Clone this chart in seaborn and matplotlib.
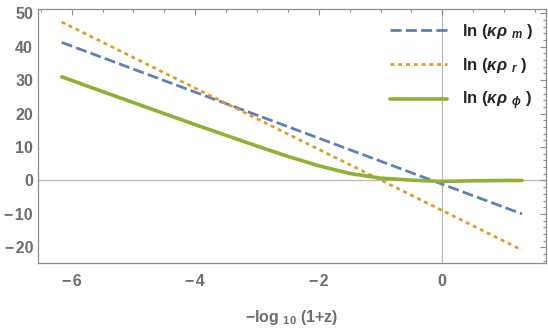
import numpy as np
import pandas as pd
import matplotlib
matplotlib.use("Agg")
import matplotlib.pyplot as plt
import seaborn as sns
from matplotlib.ticker import MultipleLocator

# datos
x_lin = [-6.16, 1.29]
ln_rho_m = [41.3, -10.0]
ln_rho_r = [47.4, -20.8]

x_phi = [-6.16, -5.5, -5.0, -4.5, -4.0, -3.5, -3.0, -2.5, -2.0, -1.5,
         -1.0, -0.5, 0.0, 0.5, 1.0, 1.29]
ln_rho_phi = [31.0, 26.6, 23.3, 20.0, 16.7, 13.5, 10.3, 7.2, 4.4, 2.1,
              0.7, 0.1, -0.3, -0.1, 0.0, 0.0]

xticks = [-6, -4, -2, 0]
xticklabels = ["\u2212\u200a6", "\u2212\u200a4", "\u2212\u200a2", "0"]
yticks = [-20, -10, 0, 10, 20, 30, 40, 50]
yticklabels = ["\u2212\u200a20", "\u2212\u200a10", "0", "10", "20", "30", "40", "50"]

sns.set_style("white")
fuente = "Liberation Sans"
plt.rcParams["font.family"] = [fuente, "DejaVu Sans"]
plt.rcParams["mathtext.fontset"] = "custom"
plt.rcParams["mathtext.rm"] = fuente + ":bold"
plt.rcParams["mathtext.it"] = fuente + ":italic:bold"
plt.rcParams["mathtext.bf"] = fuente + ":bold"
plt.rcParams["mathtext.default"] = "rm"

gris = "#6e6e6e"
fig = plt.figure(figsize=(5.48, 3.31), dpi=100)
ax = fig.add_axes([0.0693, 0.2063, 0.9265, 0.7656])

ax.axhline(0, color="#b9b9b9", lw=0.9, zorder=0)
ax.axvline(0, color="#b9b9b9", lw=0.9, zorder=0)

df_lin = pd.DataFrame({"x": x_lin, "m": ln_rho_m, "r": ln_rho_r})
df_phi = pd.DataFrame({"x": x_phi, "phi": ln_rho_phi})

sns.lineplot(data=df_lin, x="x", y="m", ax=ax, color="#5e81b5", lw=2.0,
             dashes=(4.0, 1.5), label=r"ln ($\mathit{\kappa\rho}$ $_{\mathit{m}}$ )")
sns.lineplot(data=df_lin, x="x", y="r", ax=ax, color="#e19c24", lw=2.0,
             dashes=(1.4, 1.4), label=r"ln ($\mathit{\kappa\rho}$ $_{\mathit{r}}$ )")
sns.lineplot(data=df_phi, x="x", y="phi", ax=ax, color="#8fb032", lw=2.6,
             label=r"ln ($\mathit{\kappa\rho}$ $_{\mathit{\phi}}$ )")

ax.set_xlim(-6.545, 1.674)
ax.set_ylim(-24.6, 51.2)
ax.set_xticks(xticks)
ax.set_xticklabels(xticklabels)
ax.set_yticks(yticks)
ax.set_yticklabels(yticklabels)
ax.xaxis.set_minor_locator(MultipleLocator(0.5))
ax.yaxis.set_minor_locator(MultipleLocator(2))
ax.tick_params(which="both", direction="in", top=True, right=True,
               color="#8c8c8c", width=0.8)
ax.tick_params(which="major", length=4.5)
ax.tick_params(which="minor", length=2.5)
ax.tick_params(axis="x", which="major", pad=8, labelsize=11.5, labelcolor=gris)
ax.tick_params(axis="y", which="major", pad=3.5, labelsize=11.5, labelcolor=gris)
for t in ax.get_xticklabels() + ax.get_yticklabels():
    t.set_fontweight("bold")
for s in ax.spines.values():
    s.set_color("#8c8c8c")
    s.set_linewidth(0.9)

ax.set_xlabel("\u2212log $_{10}$ (1+z)", color=gris, fontsize=11.5,
              fontweight="bold", labelpad=14)
ax.set_ylabel("")

leg = ax.legend(loc="upper right", frameon=False, fontsize=12,
                handlelength=3.4, labelspacing=0.9, borderaxespad=0.45,
                handletextpad=0.9, borderpad=0.3)
for t in leg.get_texts():
    t.set_fontweight("bold")

fig.savefig("out.png", dpi=100)
